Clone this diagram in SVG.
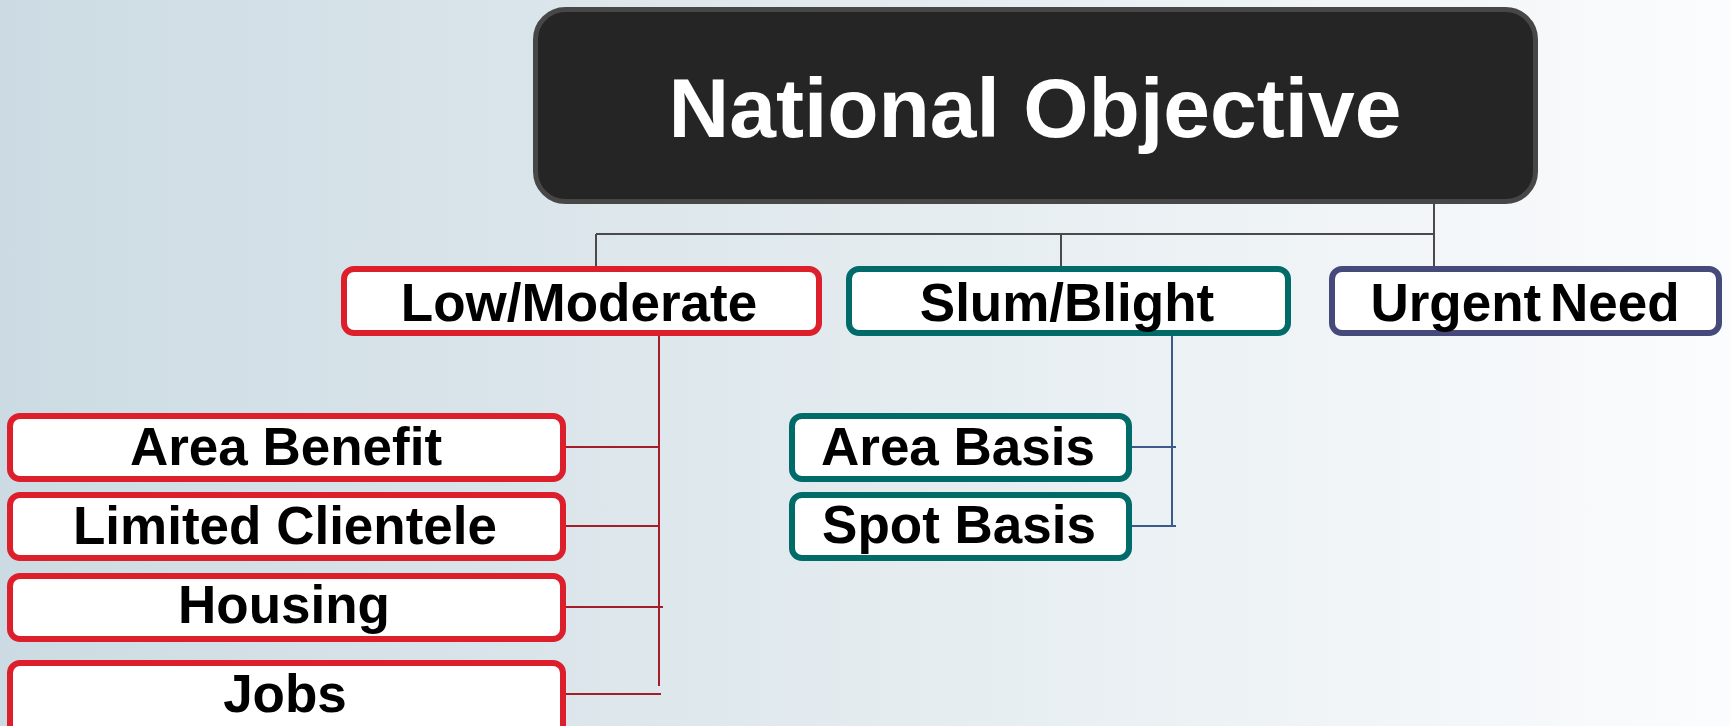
<svg xmlns="http://www.w3.org/2000/svg" width="1730" height="726" viewBox="0 0 1730 726">
  <defs>
    <linearGradient id="bg" x1="0" y1="0" x2="1" y2="0">
      <stop offset="0" stop-color="#ccdbe3"/>
      <stop offset="0.5" stop-color="#e3ebef"/>
      <stop offset="1" stop-color="#fbfcfd"/>
    </linearGradient>
    <style>
      .box { fill: #ffffff; stroke-width: 6; }
      .red { stroke: #dc1f2b; }
      .teal { stroke: #006b68; }
      .navy { stroke: #454a7a; }
      .lbl { font-family: "Liberation Sans", Arial, sans-serif; font-weight: bold; font-size: 53px; fill: #000000; text-anchor: middle; }
      .title { font-family: "Liberation Sans", Arial, sans-serif; font-weight: bold; font-size: 84px; fill: #ffffff; text-anchor: middle; }
      .cg { stroke: #4a4a4a; stroke-width: 2; fill: none; }
      .cr { stroke: #a51c2a; stroke-width: 2; fill: none; }
      .cb { stroke: #3d5a8c; stroke-width: 2; fill: none; }
    </style>
  </defs>
  <rect x="0" y="0" width="1730" height="726" fill="url(#bg)"/>

  <g id="connectors">
    <path class="cg" d="M1434 204 V268"/>
    <path class="cg" d="M596 234 H1434" stroke-width="3"/>
    <path class="cg" d="M596 234 V268"/>
    <path class="cg" d="M1061 234 V268"/>
    <path class="cr" d="M659 336 V686"/>
    <path class="cr" d="M566 447 H659"/>
    <path class="cr" d="M566 526 H659"/>
    <path class="cr" d="M566 607 H663"/>
    <path class="cr" d="M566 694 H661"/>
    <path class="cb" d="M1172 336 V527"/>
    <path class="cb" d="M1132 447 H1176"/>
    <path class="cb" d="M1132 526 H1176"/>
  </g>

  <g id="national-objective">
    <rect x="535.5" y="9.5" width="1000" height="192" rx="30" fill="#252525" stroke="#474747" stroke-width="5"/>
    <text class="title" x="1035" y="137">National Objective</text>
  </g>

  <g id="low-moderate">
    <rect class="box red" x="344" y="269" width="475" height="64" rx="10"/>
    <text class="lbl" x="579" y="321">Low/Moderate</text>
  </g>
  <g id="slum-blight">
    <rect class="box teal" x="849" y="269" width="439" height="64" rx="10"/>
    <text class="lbl" x="1067" y="321">Slum/Blight</text>
  </g>
  <g id="urgent-need">
    <rect class="box navy" x="1332" y="269" width="387" height="64" rx="10"/>
    <text class="lbl" x="1525" y="321" word-spacing="-6">Urgent Need</text>
  </g>

  <g id="area-benefit">
    <rect class="box red" x="10" y="416" width="553" height="63" rx="10"/>
    <text class="lbl" x="286" y="465">Area Benefit</text>
  </g>
  <g id="limited-clientele">
    <rect class="box red" x="10" y="495" width="553" height="63" rx="10"/>
    <text class="lbl" x="285" y="544">Limited Clientele</text>
  </g>
  <g id="housing">
    <rect class="box red" x="10" y="576" width="553" height="63" rx="10"/>
    <text class="lbl" x="284" y="623">Housing</text>
  </g>
  <g id="jobs">
    <rect class="box red" x="10" y="663" width="553" height="72" rx="10"/>
    <text class="lbl" x="285" y="712">Jobs</text>
  </g>

  <g id="area-basis">
    <rect class="box teal" x="792" y="416" width="337" height="63" rx="10"/>
    <text class="lbl" x="958" y="465">Area Basis</text>
  </g>
  <g id="spot-basis">
    <rect class="box teal" x="792" y="495" width="337" height="63" rx="10"/>
    <text class="lbl" x="959" y="543">Spot Basis</text>
  </g>
</svg>
